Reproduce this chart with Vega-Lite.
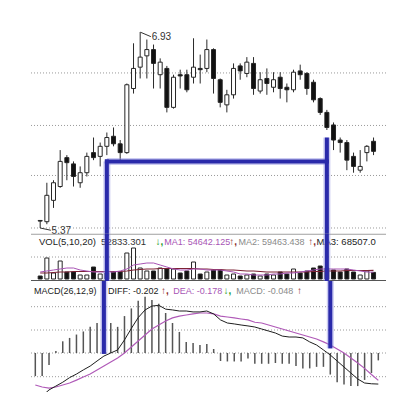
{
  "$schema": "https://vega.github.io/schema/vega-lite/v6.json",
  "background": "white",
  "padding": {"left": 30, "top": 20, "right": 0, "bottom": 0},
  "spacing": 0,
  "bounds": "flush",
  "config": {
    "view": {"stroke": null},
    "text": {"font": "Liberation Sans", "fontSize": 9, "align": "left", "baseline": "middle"}
  },
  "datasets": {
    "k": [
      {"i": 0, "o": 5.43, "h": 5.43, "l": 5.37, "c": 5.425, "v": 24000, "m1": 56000, "m3": 48000, "dif": -0.305, "dea": -0.208, "macd": -0.15},
      {"i": 1, "o": 5.42, "h": 5.73, "l": 5.40, "c": 5.63, "v": 168000, "m1": 64000, "m3": 48000, "dif": -0.28, "dea": -0.221, "macd": -0.15},
      {"i": 2, "o": 5.59, "h": 5.75, "l": 5.53, "c": 5.73, "v": 48000, "m1": 72000, "m3": 52000, "dif": -0.24, "dea": -0.228, "macd": -0.078},
      {"i": 3, "o": 5.70, "h": 5.99, "l": 5.69, "c": 5.90, "v": 144000, "m1": 80000, "m3": 56000, "dif": -0.215, "dea": -0.221, "macd": 0.013},
      {"i": 4, "o": 5.93, "h": 5.95, "l": 5.75, "c": 5.89, "v": 56000, "m1": 88000, "m3": 56000, "dif": -0.19, "dea": -0.208, "macd": 0.076},
      {"i": 5, "o": 5.88, "h": 5.90, "l": 5.70, "c": 5.78, "v": 56000, "m1": 88000, "m3": 60000, "dif": -0.16, "dea": -0.195, "macd": 0.098},
      {"i": 6, "o": 5.73, "h": 5.86, "l": 5.69, "c": 5.81, "v": 32000, "m1": 72000, "m3": 60000, "dif": -0.137, "dea": -0.176, "macd": 0.12},
      {"i": 7, "o": 5.81, "h": 5.97, "l": 5.78, "c": 5.94, "v": 32000, "m1": 64000, "m3": 60000, "dif": -0.11, "dea": -0.156, "macd": 0.14},
      {"i": 8, "o": 5.97, "h": 6.09, "l": 5.91, "c": 5.93, "v": 96000, "m1": 56000, "m3": 60000, "dif": -0.085, "dea": -0.137, "macd": 0.17},
      {"i": 9, "o": 5.94, "h": 6.05, "l": 5.86, "c": 6.02, "v": 40000, "m1": 56000, "m3": 60000, "dif": -0.052, "dea": -0.11, "macd": 0.195},
      {"i": 10, "o": 6.02, "h": 6.13, "l": 5.95, "c": 6.09, "v": 48000, "m1": 56000, "m3": 60000, "dif": -0.02, "dea": -0.085, "macd": 0.21},
      {"i": 11, "o": 6.10, "h": 6.17, "l": 6.02, "c": 6.04, "v": 56000, "m1": 56000, "m3": 60000, "dif": 0.0, "dea": -0.059, "macd": 0.195},
      {"i": 12, "o": 6.04, "h": 6.07, "l": 5.89, "c": 5.97, "v": 56000, "m1": 64000, "m3": 60000, "dif": 0.02, "dea": -0.033, "macd": 0.17},
      {"i": 13, "o": 5.97, "h": 6.52, "l": 5.96, "c": 6.51, "v": 208000, "m1": 80000, "m3": 64000, "dif": 0.085, "dea": 0.0, "macd": 0.24},
      {"i": 14, "o": 6.48, "h": 6.84, "l": 6.44, "c": 6.64, "v": 248000, "m1": 112000, "m3": 72000, "dif": 0.16, "dea": 0.039, "macd": 0.29},
      {"i": 15, "o": 6.65, "h": 6.93, "l": 6.56, "c": 6.73, "v": 88000, "m1": 120000, "m3": 76000, "dif": 0.23, "dea": 0.078, "macd": 0.34},
      {"i": 16, "o": 6.74, "h": 6.87, "l": 6.56, "c": 6.79, "v": 64000, "m1": 128000, "m3": 80000, "dif": 0.28, "dea": 0.117, "macd": 0.365},
      {"i": 17, "o": 6.79, "h": 6.83, "l": 6.48, "c": 6.68, "v": 64000, "m1": 128000, "m3": 80000, "dif": 0.305, "dea": 0.156, "macd": 0.345},
      {"i": 18, "o": 6.59, "h": 6.72, "l": 6.48, "c": 6.69, "v": 88000, "m1": 112000, "m3": 84000, "dif": 0.31, "dea": 0.182, "macd": 0.32},
      {"i": 19, "o": 6.64, "h": 6.66, "l": 6.29, "c": 6.33, "v": 80000, "m1": 96000, "m3": 84000, "dif": 0.285, "dea": 0.208, "macd": 0.26},
      {"i": 20, "o": 6.33, "h": 6.59, "l": 6.32, "c": 6.57, "v": 80000, "m1": 80000, "m3": 84000, "dif": 0.28, "dea": 0.228, "macd": 0.195},
      {"i": 21, "o": 6.59, "h": 6.63, "l": 6.48, "c": 6.58, "v": 48000, "m1": 72000, "m3": 84000, "dif": 0.273, "dea": 0.24, "macd": 0.137},
      {"i": 22, "o": 6.59, "h": 6.63, "l": 6.45, "c": 6.47, "v": 64000, "m1": 72000, "m3": 84000, "dif": 0.273, "dea": 0.247, "macd": 0.072},
      {"i": 23, "o": 6.57, "h": 6.88, "l": 6.52, "c": 6.65, "v": 136000, "m1": 80000, "m3": 84000, "dif": 0.267, "dea": 0.254, "macd": 0.065},
      {"i": 24, "o": 6.64, "h": 6.75, "l": 6.52, "c": 6.63, "v": 40000, "m1": 80000, "m3": 80000, "dif": 0.267, "dea": 0.26, "macd": 0.052},
      {"i": 25, "o": 6.64, "h": 6.87, "l": 6.61, "c": 6.79, "v": 56000, "m1": 72000, "m3": 80000, "dif": 0.273, "dea": 0.26, "macd": 0.059},
      {"i": 26, "o": 6.79, "h": 6.80, "l": 6.44, "c": 6.56, "v": 72000, "m1": 72000, "m3": 76000, "dif": 0.254, "dea": 0.254, "macd": 0.026},
      {"i": 27, "o": 6.55, "h": 6.56, "l": 6.33, "c": 6.37, "v": 72000, "m1": 72000, "m3": 76000, "dif": 0.215, "dea": 0.24, "macd": -0.052},
      {"i": 28, "o": 6.35, "h": 6.47, "l": 6.29, "c": 6.43, "v": 32000, "m1": 64000, "m3": 72000, "dif": 0.195, "dea": 0.234, "macd": -0.055},
      {"i": 29, "o": 6.43, "h": 6.68, "l": 6.40, "c": 6.64, "v": 40000, "m1": 56000, "m3": 72000, "dif": 0.189, "dea": 0.228, "macd": -0.055},
      {"i": 30, "o": 6.66, "h": 6.68, "l": 6.55, "c": 6.62, "v": 24000, "m1": 40000, "m3": 68000, "dif": 0.182, "dea": 0.221, "macd": -0.055},
      {"i": 31, "o": 6.60, "h": 6.73, "l": 6.57, "c": 6.69, "v": 32000, "m1": 40000, "m3": 64000, "dif": 0.176, "dea": 0.215, "macd": -0.035},
      {"i": 32, "o": 6.68, "h": 6.73, "l": 6.43, "c": 6.48, "v": 40000, "m1": 32000, "m3": 64000, "dif": 0.169, "dea": 0.2, "macd": -0.07},
      {"i": 33, "o": 6.46, "h": 6.61, "l": 6.44, "c": 6.55, "v": 24000, "m1": 32000, "m3": 60000, "dif": 0.156, "dea": 0.195, "macd": -0.07},
      {"i": 34, "o": 6.56, "h": 6.64, "l": 6.43, "c": 6.52, "v": 40000, "m1": 32000, "m3": 56000, "dif": 0.143, "dea": 0.182, "macd": -0.07},
      {"i": 35, "o": 6.49, "h": 6.61, "l": 6.45, "c": 6.55, "v": 32000, "m1": 40000, "m3": 56000, "dif": 0.13, "dea": 0.169, "macd": -0.065},
      {"i": 36, "o": 6.57, "h": 6.61, "l": 6.40, "c": 6.48, "v": 56000, "m1": 40000, "m3": 56000, "dif": 0.11, "dea": 0.156, "macd": -0.07},
      {"i": 37, "o": 6.49, "h": 6.52, "l": 6.37, "c": 6.47, "v": 40000, "m1": 48000, "m3": 56000, "dif": 0.104, "dea": 0.143, "macd": -0.07},
      {"i": 38, "o": 6.47, "h": 6.63, "l": 6.45, "c": 6.61, "v": 80000, "m1": 48000, "m3": 56000, "dif": 0.104, "dea": 0.13, "macd": -0.085},
      {"i": 39, "o": 6.62, "h": 6.67, "l": 6.55, "c": 6.59, "v": 48000, "m1": 56000, "m3": 56000, "dif": 0.098, "dea": 0.117, "macd": -0.1},
      {"i": 40, "o": 6.60, "h": 6.61, "l": 6.43, "c": 6.48, "v": 64000, "m1": 64000, "m3": 56000, "dif": 0.072, "dea": 0.104, "macd": -0.1},
      {"i": 41, "o": 6.53, "h": 6.55, "l": 6.37, "c": 6.39, "v": 88000, "m1": 72000, "m3": 60000, "dif": 0.052, "dea": 0.091, "macd": -0.09},
      {"i": 42, "o": 6.40, "h": 6.41, "l": 6.27, "c": 6.29, "v": 104000, "m1": 80000, "m3": 60000, "dif": 0.02, "dea": 0.072, "macd": -0.09},
      {"i": 43, "o": 6.29, "h": 6.31, "l": 6.15, "c": 6.17, "v": 88000, "m1": 80000, "m3": 64000, "dif": -0.013, "dea": 0.052, "macd": -0.14},
      {"i": 44, "o": 6.19, "h": 6.21, "l": 5.99, "c": 6.07, "v": 72000, "m1": 80000, "m3": 64000, "dif": -0.052, "dea": 0.026, "macd": -0.19},
      {"i": 45, "o": 6.07, "h": 6.09, "l": 5.97, "c": 6.05, "v": 56000, "m1": 80000, "m3": 64000, "dif": -0.091, "dea": 0.0, "macd": -0.205},
      {"i": 46, "o": 6.05, "h": 6.07, "l": 5.83, "c": 5.91, "v": 80000, "m1": 80000, "m3": 68000, "dif": -0.13, "dea": -0.033, "macd": -0.215},
      {"i": 47, "o": 5.94, "h": 5.97, "l": 5.81, "c": 5.86, "v": 56000, "m1": 72000, "m3": 68000, "dif": -0.169, "dea": -0.065, "macd": -0.215},
      {"i": 48, "o": 5.83, "h": 5.99, "l": 5.81, "c": 5.86, "v": 32000, "m1": 64000, "m3": 68000, "dif": -0.195, "dea": -0.1, "macd": -0.175},
      {"i": 49, "o": 5.97, "h": 6.03, "l": 5.90, "c": 6.02, "v": 64000, "m1": 56000, "m3": 68000, "dif": -0.2, "dea": -0.14, "macd": -0.13},
      {"i": 50, "o": 6.06, "h": 6.09, "l": 5.95, "c": 5.98, "v": 52833.301, "m1": 54642.125, "m3": 68507.0, "dif": -0.202, "dea": -0.178, "macd": -0.048}
    ],
    "one": [{}],
    "priceGrid": [{"p": 6.604}, {"p": 6.186}, {"p": 5.788}, {"p": 5.37}],
    "volGrid": [{"p": 176000}],
    "macdGrid": [{"p": 0.301}, {"p": 0.1495}, {"p": 0.0}, {"p": -0.154}]
  },
  "vconcat": [
    {
      "width": 355,
      "height": 214,
      "layer": [
        {
          "data": {"name": "priceGrid"},
          "mark": {"type": "rule", "color": "#9a9a9a", "strokeDash": [1, 2], "strokeWidth": 1},
          "encoding": {
            "y": {"field": "p", "type": "quantitative", "scale": {"domain": [5.3222, 7.0254], "nice": false, "zero": false}, "axis": null}
          }
        },
        {
          "data": {"name": "k"},
          "mark": {"type": "rule", "color": "#2a2a2a", "strokeWidth": 1},
          "encoding": {
            "x": {"field": "i", "type": "quantitative", "scale": {"domain": [-0.627, 51.12], "nice": false, "zero": false}, "axis": null},
            "y": {"field": "l", "type": "quantitative", "scale": {"domain": [5.3222, 7.0254], "nice": false, "zero": false}, "axis": null},
            "y2": {"field": "h"}
          }
        },
        {
          "data": {"name": "k"},
          "mark": {"type": "bar", "size": 4, "stroke": "#262626", "strokeWidth": 1},
          "encoding": {
            "x": {"field": "i", "type": "quantitative", "scale": {"domain": [-0.627, 51.12], "nice": false, "zero": false}, "axis": null},
            "y": {"field": "o", "type": "quantitative", "scale": {"domain": [5.3222, 7.0254], "nice": false, "zero": false}, "axis": null},
            "y2": {"field": "c"},
            "fill": {"condition": {"test": "datum.c >= datum.o", "value": "white"}, "value": "#111111"}
          }
        },
        {
          "data": {"name": "one"},
          "mark": {"type": "rule", "color": "#333333", "strokeWidth": 1},
          "encoding": {
            "x": {"datum": 15.05, "type": "quantitative", "scale": {"domain": [-0.627, 51.12], "nice": false, "zero": false}, "axis": null},
            "x2": {"datum": 16.6},
            "y": {"datum": 6.928, "type": "quantitative", "scale": {"domain": [5.3222, 7.0254], "nice": false, "zero": false}, "axis": null},
            "y2": {"datum": 6.893}
          }
        },
        {
          "data": {"name": "one"},
          "mark": {"type": "text", "color": "#333333", "fontSize": 10},
          "encoding": {
            "x": {"datum": 16.72, "type": "quantitative", "scale": {"domain": [-0.627, 51.12], "nice": false, "zero": false}, "axis": null},
            "y": {"datum": 6.893, "type": "quantitative", "scale": {"domain": [5.3222, 7.0254], "nice": false, "zero": false}, "axis": null},
            "text": {"value": "6.93"}
          }
        },
        {
          "data": {"name": "one"},
          "mark": {"type": "rule", "color": "#333333", "strokeWidth": 1},
          "encoding": {
            "x": {"datum": 0.0, "type": "quantitative", "scale": {"domain": [-0.627, 51.12], "nice": false, "zero": false}, "axis": null},
            "x2": {"datum": 1.6},
            "y": {"datum": 5.37, "type": "quantitative", "scale": {"domain": [5.3222, 7.0254], "nice": false, "zero": false}, "axis": null},
            "y2": {"datum": 5.352}
          }
        },
        {
          "data": {"name": "one"},
          "mark": {"type": "text", "color": "#333333", "fontSize": 10},
          "encoding": {
            "x": {"datum": 1.71, "type": "quantitative", "scale": {"domain": [-0.627, 51.12], "nice": false, "zero": false}, "axis": null},
            "y": {"datum": 5.35, "type": "quantitative", "scale": {"domain": [5.3222, 7.0254], "nice": false, "zero": false}, "axis": null},
            "text": {"value": "5.37"}
          }
        },
        {
          "data": {"name": "one"},
          "mark": {"type": "rule", "color": "#8c8ce0", "strokeWidth": 7, "opacity": 0.45},
          "encoding": {
            "x": {"datum": 10, "type": "quantitative", "scale": {"domain": [-0.627, 51.12], "nice": false, "zero": false}, "axis": null},
            "y": {"datum": 5.9, "type": "quantitative", "scale": {"domain": [5.3222, 7.0254], "nice": false, "zero": false}, "axis": null},
            "y2": {"datum": 5.3222}
          }
        },
        {
          "data": {"name": "one"},
          "mark": {"type": "rule", "color": "#8c8ce0", "strokeWidth": 7, "opacity": 0.45},
          "encoding": {
            "x": {"datum": 43, "type": "quantitative", "scale": {"domain": [-0.627, 51.12], "nice": false, "zero": false}, "axis": null},
            "y": {"datum": 6.09, "type": "quantitative", "scale": {"domain": [5.3222, 7.0254], "nice": false, "zero": false}, "axis": null},
            "y2": {"datum": 5.3222}
          }
        },
        {
          "data": {"name": "one"},
          "mark": {"type": "rule", "color": "#8c8ce0", "strokeWidth": 7, "opacity": 0.45},
          "encoding": {
            "x": {"datum": 10, "type": "quantitative", "scale": {"domain": [-0.627, 51.12], "nice": false, "zero": false}, "axis": null},
            "x2": {"datum": 43},
            "y": {"datum": 5.9, "type": "quantitative", "scale": {"domain": [5.3222, 7.0254], "nice": false, "zero": false}, "axis": null}
          }
        },
        {
          "data": {"name": "one"},
          "mark": {"type": "rule", "color": "#2a2aaa", "strokeWidth": 4, "strokeCap": "square"},
          "encoding": {
            "x": {"datum": 10, "type": "quantitative", "scale": {"domain": [-0.627, 51.12], "nice": false, "zero": false}, "axis": null},
            "y": {"datum": 5.9, "type": "quantitative", "scale": {"domain": [5.3222, 7.0254], "nice": false, "zero": false}, "axis": null},
            "y2": {"datum": 5.3222}
          }
        },
        {
          "data": {"name": "one"},
          "mark": {"type": "rule", "color": "#2a2aaa", "strokeWidth": 4},
          "encoding": {
            "x": {"datum": 43, "type": "quantitative", "scale": {"domain": [-0.627, 51.12], "nice": false, "zero": false}, "axis": null},
            "y": {"datum": 6.09, "type": "quantitative", "scale": {"domain": [5.3222, 7.0254], "nice": false, "zero": false}, "axis": null},
            "y2": {"datum": 5.3222}
          }
        },
        {
          "data": {"name": "one"},
          "mark": {"type": "rule", "color": "#2a2aaa", "strokeWidth": 4, "strokeCap": "square"},
          "encoding": {
            "x": {"datum": 10, "type": "quantitative", "scale": {"domain": [-0.627, 51.12], "nice": false, "zero": false}, "axis": null},
            "x2": {"datum": 43},
            "y": {"datum": 5.9, "type": "quantitative", "scale": {"domain": [5.3222, 7.0254], "nice": false, "zero": false}, "axis": null}
          }
        }
      ]
    },
    {
      "width": 355,
      "height": 47,
      "layer": [
        {
          "data": {"name": "volGrid"},
          "mark": {"type": "rule", "color": "#9a9a9a", "strokeDash": [1, 2], "strokeWidth": 1},
          "encoding": {
            "y": {"field": "p", "type": "quantitative", "scale": {"domain": [-16000, 360000], "nice": false, "zero": false}, "axis": null}
          }
        },
        {
          "data": {"name": "one"},
          "mark": {"type": "rule", "color": "#a0a0a0", "strokeWidth": 1},
          "encoding": {
            "y": {"datum": 358000, "type": "quantitative", "scale": {"domain": [-16000, 360000], "nice": false, "zero": false}, "axis": null}
          }
        },
        {
          "data": {"name": "one"},
          "mark": {"type": "rule", "color": "#555555", "strokeWidth": 1},
          "encoding": {
            "y": {"datum": -12000, "type": "quantitative", "scale": {"domain": [-16000, 360000], "nice": false, "zero": false}, "axis": null}
          }
        },
        {
          "data": {"name": "k"},
          "mark": {"type": "bar", "size": 4, "stroke": "#262626", "strokeWidth": 1},
          "encoding": {
            "x": {"field": "i", "type": "quantitative", "scale": {"domain": [-0.627, 51.12], "nice": false, "zero": false}, "axis": null},
            "y": {"field": "v", "type": "quantitative", "scale": {"domain": [-16000, 360000], "nice": false, "zero": false}, "axis": null},
            "y2": {"datum": 0},
            "fill": {"condition": {"test": "datum.c >= datum.o", "value": "white"}, "value": "#111111"}
          }
        },
        {
          "data": {"name": "k"},
          "mark": {"type": "line", "color": "#7d2235", "strokeWidth": 1.2},
          "encoding": {
            "x": {"field": "i", "type": "quantitative", "scale": {"domain": [-0.627, 51.12], "nice": false, "zero": false}, "axis": null},
            "y": {"field": "m3", "type": "quantitative", "scale": {"domain": [-16000, 360000], "nice": false, "zero": false}, "axis": null}
          }
        },
        {
          "data": {"name": "k"},
          "mark": {"type": "line", "color": "#a855b5", "strokeWidth": 1},
          "encoding": {
            "x": {"field": "i", "type": "quantitative", "scale": {"domain": [-0.627, 51.12], "nice": false, "zero": false}, "axis": null},
            "y": {"field": "m1", "type": "quantitative", "scale": {"domain": [-16000, 360000], "nice": false, "zero": false}, "axis": null}
          }
        },
        {
          "data": {"name": "one"},
          "mark": {"type": "text", "color": "#222222", "fontSize": 9.5},
          "encoding": {
            "x": {"datum": -0.19, "type": "quantitative", "scale": {"domain": [-0.627, 51.12], "nice": false, "zero": false}, "axis": null},
            "y": {"datum": 296000, "type": "quantitative", "scale": {"domain": [-16000, 360000], "nice": false, "zero": false}, "axis": null},
            "text": {"value": "VOL(5,10,20)"}
          }
        },
        {
          "data": {"name": "one"},
          "mark": {"type": "text", "color": "#333333", "fontSize": 9.5},
          "encoding": {
            "x": {"datum": 9.14, "type": "quantitative", "scale": {"domain": [-0.627, 51.12], "nice": false, "zero": false}, "axis": null},
            "y": {"datum": 296000, "type": "quantitative", "scale": {"domain": [-16000, 360000], "nice": false, "zero": false}, "axis": null},
            "text": {"value": "52833.301"}
          }
        },
        {
          "data": {"name": "one"},
          "mark": {"type": "text", "color": "#1f9a2a", "fontSize": 10, "fontWeight": "bold"},
          "encoding": {
            "x": {"datum": 17.3, "type": "quantitative", "scale": {"domain": [-0.627, 51.12], "nice": false, "zero": false}, "axis": null},
            "y": {"datum": 296000, "type": "quantitative", "scale": {"domain": [-16000, 360000], "nice": false, "zero": false}, "axis": null},
            "text": {"value": "↓,"}
          }
        },
        {
          "data": {"name": "one"},
          "mark": {"type": "text", "color": "#a855b5"},
          "encoding": {
            "x": {"datum": 18.6, "type": "quantitative", "scale": {"domain": [-0.627, 51.12], "nice": false, "zero": false}, "axis": null},
            "y": {"datum": 296000, "type": "quantitative", "scale": {"domain": [-16000, 360000], "nice": false, "zero": false}, "axis": null},
            "text": {"value": "MA1: 54642.125"}
          }
        },
        {
          "data": {"name": "one"},
          "mark": {"type": "text", "color": "#8a2a2a", "fontSize": 10, "fontWeight": "bold"},
          "encoding": {
            "x": {"datum": 28.35, "type": "quantitative", "scale": {"domain": [-0.627, 51.12], "nice": false, "zero": false}, "axis": null},
            "y": {"datum": 296000, "type": "quantitative", "scale": {"domain": [-16000, 360000], "nice": false, "zero": false}, "axis": null},
            "text": {"value": "↑,"}
          }
        },
        {
          "data": {"name": "one"},
          "mark": {"type": "text", "color": "#8a8a8a"},
          "encoding": {
            "x": {"datum": 29.75, "type": "quantitative", "scale": {"domain": [-0.627, 51.12], "nice": false, "zero": false}, "axis": null},
            "y": {"datum": 296000, "type": "quantitative", "scale": {"domain": [-16000, 360000], "nice": false, "zero": false}, "axis": null},
            "text": {"value": "MA2: 59463.438"}
          }
        },
        {
          "data": {"name": "one"},
          "mark": {"type": "text", "color": "#8a2a2a", "fontSize": 10, "fontWeight": "bold"},
          "encoding": {
            "x": {"datum": 40.19, "type": "quantitative", "scale": {"domain": [-0.627, 51.12], "nice": false, "zero": false}, "axis": null},
            "y": {"datum": 296000, "type": "quantitative", "scale": {"domain": [-16000, 360000], "nice": false, "zero": false}, "axis": null},
            "text": {"value": "↑,"}
          }
        },
        {
          "data": {"name": "one"},
          "mark": {"type": "text", "color": "#222222", "clip": true, "fontSize": 9.5},
          "encoding": {
            "x": {"datum": 41.45, "type": "quantitative", "scale": {"domain": [-0.627, 51.12], "nice": false, "zero": false}, "axis": null},
            "y": {"datum": 296000, "type": "quantitative", "scale": {"domain": [-16000, 360000], "nice": false, "zero": false}, "axis": null},
            "text": {"value": "MA3: 68507.0"}
          }
        },
        {
          "data": {"name": "one"},
          "mark": {"type": "rule", "color": "#8c8ce0", "strokeWidth": 7, "opacity": 0.45},
          "encoding": {
            "x": {"datum": 10, "type": "quantitative", "scale": {"domain": [-0.627, 51.12], "nice": false, "zero": false}, "axis": null},
            "y": {"datum": 360000, "type": "quantitative", "scale": {"domain": [-16000, 360000], "nice": false, "zero": false}, "axis": null},
            "y2": {"datum": -16000}
          }
        },
        {
          "data": {"name": "one"},
          "mark": {"type": "rule", "color": "#8c8ce0", "strokeWidth": 7, "opacity": 0.45},
          "encoding": {
            "x": {"datum": 43, "type": "quantitative", "scale": {"domain": [-0.627, 51.12], "nice": false, "zero": false}, "axis": null},
            "y": {"datum": 360000, "type": "quantitative", "scale": {"domain": [-16000, 360000], "nice": false, "zero": false}, "axis": null},
            "y2": {"datum": -16000}
          }
        },
        {
          "data": {"name": "one"},
          "mark": {"type": "rule", "color": "#2a2aaa", "strokeWidth": 4},
          "encoding": {
            "x": {"datum": 10, "type": "quantitative", "scale": {"domain": [-0.627, 51.12], "nice": false, "zero": false}, "axis": null},
            "y": {"datum": 360000, "type": "quantitative", "scale": {"domain": [-16000, 360000], "nice": false, "zero": false}, "axis": null},
            "y2": {"datum": -16000}
          }
        },
        {
          "data": {"name": "one"},
          "mark": {"type": "rule", "color": "#2a2aaa", "strokeWidth": 4},
          "encoding": {
            "x": {"datum": 43, "type": "quantitative", "scale": {"domain": [-0.627, 51.12], "nice": false, "zero": false}, "axis": null},
            "y": {"datum": 360000, "type": "quantitative", "scale": {"domain": [-16000, 360000], "nice": false, "zero": false}, "axis": null},
            "y2": {"datum": -16000}
          }
        }
      ]
    },
    {
      "width": 355,
      "height": 111,
      "layer": [
        {
          "data": {"name": "macdGrid"},
          "mark": {"type": "rule", "color": "#9a9a9a", "strokeDash": [1, 2], "strokeWidth": 1},
          "encoding": {
            "y": {"field": "p", "type": "quantitative", "scale": {"domain": [-0.2535, 0.468], "nice": false, "zero": false}, "axis": null}
          }
        },
        {
          "data": {"name": "k"},
          "mark": {"type": "rule", "color": "#555555", "strokeWidth": 1.5},
          "encoding": {
            "x": {"field": "i", "type": "quantitative", "scale": {"domain": [-0.627, 51.12], "nice": false, "zero": false}, "axis": null},
            "y": {"field": "macd", "type": "quantitative", "scale": {"domain": [-0.2535, 0.468], "nice": false, "zero": false}, "axis": null},
            "y2": {"datum": 0}
          }
        },
        {
          "data": {"name": "k"},
          "mark": {"type": "line", "color": "#b05ab8", "strokeWidth": 1.2, "clip": true},
          "encoding": {
            "x": {"field": "i", "type": "quantitative", "scale": {"domain": [-0.627, 51.12], "nice": false, "zero": false}, "axis": null},
            "y": {"field": "dea", "type": "quantitative", "scale": {"domain": [-0.2535, 0.468], "nice": false, "zero": false}, "axis": null}
          }
        },
        {
          "data": {"name": "k"},
          "mark": {"type": "line", "color": "#1e1e1e", "strokeWidth": 1, "clip": true},
          "encoding": {
            "x": {"field": "i", "type": "quantitative", "scale": {"domain": [-0.627, 51.12], "nice": false, "zero": false}, "axis": null},
            "y": {"field": "dif", "type": "quantitative", "scale": {"domain": [-0.2535, 0.468], "nice": false, "zero": false}, "axis": null}
          }
        },
        {
          "data": {"name": "one"},
          "mark": {"type": "text", "color": "#222222"},
          "encoding": {
            "x": {"datum": -0.19, "type": "quantitative", "scale": {"domain": [-0.627, 51.12], "nice": false, "zero": false}, "axis": null},
            "y": {"datum": 0.403, "type": "quantitative", "scale": {"domain": [-0.2535, 0.468], "nice": false, "zero": false}, "axis": null},
            "text": {"value": "MACD(26,12,9)"}
          }
        },
        {
          "data": {"name": "one"},
          "mark": {"type": "text", "color": "#222222"},
          "encoding": {
            "x": {"datum": 10.6, "type": "quantitative", "scale": {"domain": [-0.627, 51.12], "nice": false, "zero": false}, "axis": null},
            "y": {"datum": 0.403, "type": "quantitative", "scale": {"domain": [-0.2535, 0.468], "nice": false, "zero": false}, "axis": null},
            "text": {"value": "DIFF: -0.202"}
          }
        },
        {
          "data": {"name": "one"},
          "mark": {"type": "text", "color": "#8a2a2a", "fontSize": 10, "fontWeight": "bold"},
          "encoding": {
            "x": {"datum": 18.32, "type": "quantitative", "scale": {"domain": [-0.627, 51.12], "nice": false, "zero": false}, "axis": null},
            "y": {"datum": 0.403, "type": "quantitative", "scale": {"domain": [-0.2535, 0.468], "nice": false, "zero": false}, "axis": null},
            "text": {"value": "↑,"}
          }
        },
        {
          "data": {"name": "one"},
          "mark": {"type": "text", "color": "#a855b5"},
          "encoding": {
            "x": {"datum": 20.1, "type": "quantitative", "scale": {"domain": [-0.627, 51.12], "nice": false, "zero": false}, "axis": null},
            "y": {"datum": 0.403, "type": "quantitative", "scale": {"domain": [-0.2535, 0.468], "nice": false, "zero": false}, "axis": null},
            "text": {"value": "DEA: -0.178"}
          }
        },
        {
          "data": {"name": "one"},
          "mark": {"type": "text", "color": "#1f9a2a", "fontSize": 10, "fontWeight": "bold"},
          "encoding": {
            "x": {"datum": 27.45, "type": "quantitative", "scale": {"domain": [-0.627, 51.12], "nice": false, "zero": false}, "axis": null},
            "y": {"datum": 0.403, "type": "quantitative", "scale": {"domain": [-0.2535, 0.468], "nice": false, "zero": false}, "axis": null},
            "text": {"value": "↓,"}
          }
        },
        {
          "data": {"name": "one"},
          "mark": {"type": "text", "color": "#8a8a8a"},
          "encoding": {
            "x": {"datum": 29.3, "type": "quantitative", "scale": {"domain": [-0.627, 51.12], "nice": false, "zero": false}, "axis": null},
            "y": {"datum": 0.403, "type": "quantitative", "scale": {"domain": [-0.2535, 0.468], "nice": false, "zero": false}, "axis": null},
            "text": {"value": "MACD: -0.048"}
          }
        },
        {
          "data": {"name": "one"},
          "mark": {"type": "text", "color": "#8a2a2a", "fontSize": 10, "fontWeight": "bold"},
          "encoding": {
            "x": {"datum": 38.15, "type": "quantitative", "scale": {"domain": [-0.627, 51.12], "nice": false, "zero": false}, "axis": null},
            "y": {"datum": 0.403, "type": "quantitative", "scale": {"domain": [-0.2535, 0.468], "nice": false, "zero": false}, "axis": null},
            "text": {"value": "↑"}
          }
        },
        {
          "data": {"name": "one"},
          "mark": {"type": "rule", "color": "#8c8ce0", "strokeWidth": 7, "opacity": 0.45},
          "encoding": {
            "x": {"datum": 10, "type": "quantitative", "scale": {"domain": [-0.627, 51.12], "nice": false, "zero": false}, "axis": null},
            "y": {"datum": 0.468, "type": "quantitative", "scale": {"domain": [-0.2535, 0.468], "nice": false, "zero": false}, "axis": null},
            "y2": {"datum": -0.006}
          }
        },
        {
          "data": {"name": "one"},
          "mark": {"type": "rule", "color": "#8c8ce0", "strokeWidth": 7, "opacity": 0.45},
          "encoding": {
            "x": {"datum": 43, "type": "quantitative", "scale": {"domain": [-0.627, 51.12], "nice": false, "zero": false}, "axis": null},
            "y": {"datum": 0.468, "type": "quantitative", "scale": {"domain": [-0.2535, 0.468], "nice": false, "zero": false}, "axis": null},
            "y2": {"datum": 0.03}
          }
        },
        {
          "data": {"name": "one"},
          "mark": {"type": "rule", "color": "#2a2aaa", "strokeWidth": 4},
          "encoding": {
            "x": {"datum": 10, "type": "quantitative", "scale": {"domain": [-0.627, 51.12], "nice": false, "zero": false}, "axis": null},
            "y": {"datum": 0.468, "type": "quantitative", "scale": {"domain": [-0.2535, 0.468], "nice": false, "zero": false}, "axis": null},
            "y2": {"datum": -0.006}
          }
        },
        {
          "data": {"name": "one"},
          "mark": {"type": "rule", "color": "#2a2aaa", "strokeWidth": 4},
          "encoding": {
            "x": {"datum": 43, "type": "quantitative", "scale": {"domain": [-0.627, 51.12], "nice": false, "zero": false}, "axis": null},
            "y": {"datum": 0.468, "type": "quantitative", "scale": {"domain": [-0.2535, 0.468], "nice": false, "zero": false}, "axis": null},
            "y2": {"datum": 0.03}
          }
        }
      ]
    }
  ]
}
